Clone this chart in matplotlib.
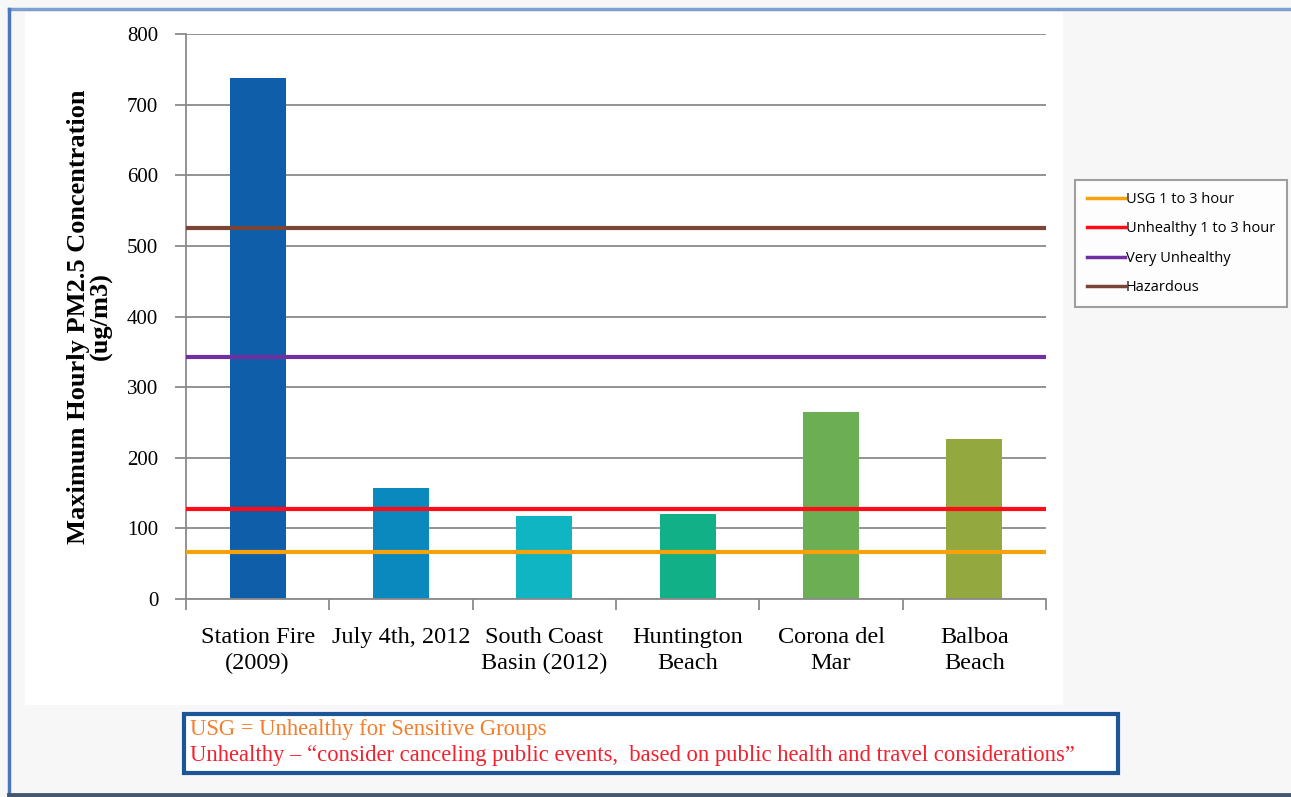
import matplotlib
matplotlib.use('Agg')
import matplotlib.pyplot as plt
from matplotlib.patches import Rectangle
from matplotlib.lines import Line2D
import numpy as np

# data
categories = ['Station Fire\n(2009)', 'July 4th, 2012', 'South Coast\nBasin (2012)',
              'Huntington\nBeach', 'Corona del\nMar', 'Balboa\nBeach']
pm25_max = [738, 157, 117, 120, 265, 226]
bar_colors = ['#0f5ea9', '#0a89bf', '#10b5c4', '#12b086', '#6cae53', '#93a83e']

threshold_names = ['USG 1 to 3 hour', 'Unhealthy 1 to 3 hour', 'Very Unhealthy', 'Hazardous']
threshold_values = [67, 127, 342, 526]
threshold_colors = ['#f7a10b', '#ff0c18', '#7030a0', '#7b4536']

y_ticks = [0, 100, 200, 300, 400, 500, 600, 700, 800]

W, H = 1291, 797
serif = ['Liberation Serif', 'DejaVu Serif']
sans = ['Open Sans', 'DejaVu Sans']


def fx(px):
    return px / W


def fy(py):
    return 1 - py / H


fig = plt.figure(figsize=(W / 100, H / 100), dpi=100)
fig.patch.set_facecolor('#f7f7f7')

# white chart panel and the outer frame
fig.add_artist(Rectangle((fx(25), fy(705)), fx(1063) - fx(25), fy(12) - fy(705),
                         transform=fig.transFigure, facecolor='white', edgecolor='none', zorder=0))
fig.add_artist(Line2D([fx(9), 1], [fy(9), fy(9)], transform=fig.transFigure, color='#7f9fd0', lw=2.5))
fig.add_artist(Line2D([fx(9), fx(9)], [fy(9), 0], transform=fig.transFigure, color='#4a78bf', lw=2.5))
fig.add_artist(Line2D([fx(9), 1], [fy(795), fy(795)], transform=fig.transFigure, color='#46586e', lw=3.5))

ax = fig.add_axes([fx(186), fy(599), fx(1046) - fx(186), fy(34) - fy(599)])
ax.set_facecolor('white')

x = np.arange(len(categories))
ax.bar(x, pm25_max, width=0.39, color=bar_colors, zorder=2)

for name, val, col in zip(threshold_names, threshold_values, threshold_colors):
    ax.axhline(val, color=col, lw=3, label=name, zorder=3)

ax.set_xlim(-0.5, len(categories) - 0.5)
ax.set_ylim(0, 800)
ax.set_yticks(y_ticks)
ax.set_yticklabels([str(t) for t in y_ticks], family=serif, fontsize=15)
ax.yaxis.grid(True, color='#8a8a8a', lw=1.3, zorder=1)
ax.set_axisbelow(True)

ax.set_xticks(x)
ax.set_xticklabels(categories, family=serif, fontsize=17.5, linespacing=1.3)
ax.set_xticks(np.arange(-0.5, len(categories)), minor=True)
ax.tick_params(axis='x', which='major', length=0, pad=20)
ax.tick_params(axis='x', which='minor', length=8, width=1.3, color='#8a8a8a')
ax.tick_params(axis='y', length=8, width=1.3, color='#8a8a8a', pad=12)

for side in ['top', 'right']:
    ax.spines[side].set_visible(False)
for side in ['left', 'bottom']:
    ax.spines[side].set_color('#8a8a8a')
    ax.spines[side].set_linewidth(1.3)

ax.set_ylabel('Maximum Hourly PM2.5 Concentration\n(ug/m3)', family=serif, fontsize=19,
              fontweight='bold', linespacing=1.0, labelpad=10)

leg = ax.legend(loc='upper left', bbox_to_anchor=(fx(1075), fy(180)), bbox_transform=fig.transFigure,
                prop={'family': sans, 'size': 10.5}, frameon=True, fancybox=False,
                handlelength=2.6, handletextpad=0.1, labelspacing=1.0, borderpad=0.8,
                borderaxespad=0)
leg.get_frame().set_edgecolor('#888888')
leg.get_frame().set_linewidth(1.5)
for line in leg.get_lines():
    line.set_linewidth(2.5)

# note box at the bottom
fig.add_artist(Rectangle((fx(184), fy(773)), fx(1118) - fx(184), fy(714) - fy(773),
                         transform=fig.transFigure, facecolor='white', edgecolor='#1d5697',
                         lw=3, zorder=2))
fig.text(fx(190), fy(730), 'USG = Unhealthy for Sensitive Groups', family=serif, fontsize=16.3,
         color='#f57d2c', va='center', ha='left')
fig.text(fx(190), fy(755),
         'Unhealthy \u2013 \u201cconsider canceling public events,  based on public health and travel considerations\u201d',
         family=serif, fontsize=16.3, color='#f4202e', va='center', ha='left')

fig.savefig('out.png', dpi=100, facecolor=fig.get_facecolor())
